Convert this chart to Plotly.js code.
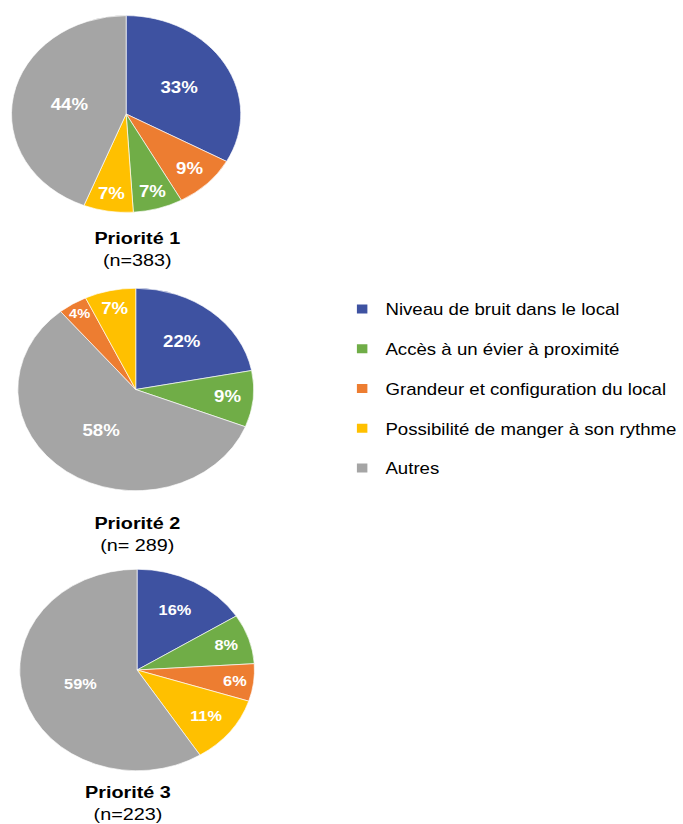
<!DOCTYPE html>
<html>
<head>
<meta charset="utf-8">
<script src="https://cdn.plot.ly/plotly-3.0.1.min.js"></script>
<style>
  html, body { margin: 0; padding: 0; background: #ffffff; overflow: hidden; }
  /* the figure is laid out narrower and widened horizontally, giving oval pies */
  #chart { width: 586px; height: 824px; transform: scaleX(1.165); transform-origin: 0 0; }
</style>
</head>
<body>
<div id="chart"></div>
<script>
// Response categories (legend order) and their colours
const categories = [
  'Niveau de bruit dans le local',
  'Accès à un évier à proximité',
  'Grandeur et configuration du local',
  'Possibilité de manger à son rythme',
  'Autres'
];
const categoryColors = ['#3e52a1', '#70ad47', '#ed7d31', '#ffc000', '#a5a5a5'];

// Priority 1 (n=383), slices in clockwise order from 12 o'clock
const p1Labels = [categories[0], categories[2], categories[1], categories[3], categories[4]];
const p1Values = [33, 9, 7, 7, 44];

// Priority 2 (n= 289)
const p2Labels = [categories[0], categories[1], categories[4], categories[2], categories[3]];
const p2Values = [22, 9, 58, 4, 7];

// Priority 3 (n=223)
const p3Labels = [categories[0], categories[1], categories[2], categories[3], categories[4]];
const p3Values = [16, 8, 6, 11, 59];

const pieTitles = ['Priorité 1', 'Priorité 2', 'Priorité 3'];
const pieCounts = ['(n=383)', '(n= 289)', '(n=223)'];

const W = 586, H = 824;
const FONT = 'Liberation Sans, Arial, sans-serif';

// pixel box -> paper domain
function domainFor(cx, cy, r) {
  return {
    x: [(cx - r) / W, (cx + r) / W],
    y: [1 - (cy + r) / H, 1 - (cy - r) / H]
  };
}

function colorsFor(labels) {
  return labels.map(l => categoryColors[categories.indexOf(l)]);
}

function pieTrace(labels, values, dom, textSize) {
  return {
    type: 'pie',
    labels: labels,
    values: values,
    sort: false,
    direction: 'clockwise',
    rotation: 0,
    domain: dom,
    marker: { colors: colorsFor(labels), line: { color: '#ffffff', width: 0.6 } },
    texttemplate: '%{value}%',
    textposition: 'inside',
    insidetextorientation: 'horizontal',
    textfont: { family: FONT, size: textSize, color: '#ffffff', weight: 'bold' },
    showlegend: false,
    hoverinfo: 'label+value'
  };
}

const data = [
  pieTrace(p1Labels, p1Values, domainFor(113.9, 114, 103.5), 16),
  pieTrace(p2Labels, p2Values, domainFor(122.6, 389.5, 106.5), 16),
  pieTrace(p3Labels, p3Values, domainFor(123.8, 670, 106), 14)
];

// legend entries, one group per category so they can be spaced apart
categories.forEach((c, i) => {
  data.push({
    type: 'scatter',
    x: [null], y: [null],
    mode: 'markers',
    name: c,
    legendgroup: 'g' + i,
    marker: { symbol: 'square', size: 9, color: categoryColors[i] },
    showlegend: true,
    hoverinfo: 'skip'
  });
});

const titlePos = [[124, 250], [124.4, 534], [115.4, 803]];
const annotations = pieTitles.map((t, i) => ({
  xref: 'paper', yref: 'paper',
  x: titlePos[i][0] / W, y: 1 - titlePos[i][1] / H,
  xanchor: 'center', yanchor: 'middle',
  showarrow: false,
  align: 'center',
  text: '<b>' + t + '</b><br>' + pieCounts[i],
  font: { family: FONT, size: 17, color: '#000000' }
}));

const layout = {
  width: W, height: H,
  margin: { l: 0, r: 0, t: 0, b: 0 },
  paper_bgcolor: '#ffffff',
  plot_bgcolor: '#ffffff',
  xaxis: { visible: false },
  yaxis: { visible: false },
  showlegend: true,
  legend: {
    x: 306 / W, xanchor: 'left',
    y: 1 - 292 / H, yanchor: 'top',
    traceorder: 'grouped',
    tracegroupgap: 16,
    font: { family: FONT, size: 16, color: '#000000' },
    bgcolor: 'rgba(0,0,0,0)'
  },
  annotations: annotations
};

Plotly.newPlot('chart', data, layout, { displayModeBar: false, staticPlot: true });
</script>
</body>
</html>
